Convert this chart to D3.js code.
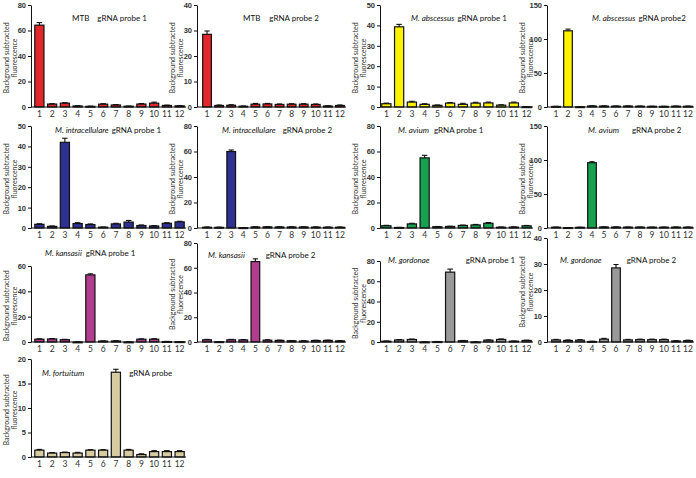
<!DOCTYPE html>
<html><head><meta charset="utf-8">
<script src="https://cdn.jsdelivr.net/npm/d3@7"></script>
<style>body{margin:0;background:#fff}svg{display:block}</style>
</head><body><svg id="c" width="696" height="478"></svg>
<script>
const categories = ["1","2","3","4","5","6","7","8","9","10","11","12"];

const mtb1 = [64.2, 2.3, 3.0, 0.8, 0.5, 2.2, 1.6, 0.6, 2.3, 3.0, 1.2, 0.9];
const mtb1Err = [2.0, 0.3, 0.4, 0.2, 0.2, 0.4, 0.3, 0.2, 0.4, 0.8, 0.3, 0.2];
const mtb2 = [28.5, 0.6, 0.7, 0.3, 1.1, 1.2, 1.0, 1.1, 1.1, 1.0, 0.4, 0.6];
const mtb2Err = [1.3, 0.2, 0.2, 0.1, 0.3, 0.2, 0.2, 0.2, 0.2, 0.2, 0.1, 0.2];
const abs1 = [1.6, 39.3, 2.4, 1.3, 0.8, 1.9, 1.3, 1.9, 2.0, 0.9, 2.0, 0.1];
const abs1Err = [0.3, 1.2, 0.4, 0.3, 0.2, 0.3, 0.5, 0.4, 0.4, 0.2, 0.4, 0.1];
const abs2 = [0.8, 112, 0.3, 1.5, 1.4, 1.3, 1.4, 1.2, 1.0, 0.9, 1.2, 1.1];
const abs2Err = [0.2, 2.5, 0.1, 0.3, 0.3, 0.2, 0.3, 0.2, 0.2, 0.2, 0.2, 0.2];
const int1 = [1.8, 0.8, 42.0, 2.2, 1.7, 0.4, 2.0, 2.9, 1.2, 1.0, 2.3, 3.0];
const int1Err = [0.3, 0.2, 2.0, 0.4, 0.3, 0.1, 0.3, 0.8, 0.3, 0.2, 0.3, 0.3];
const int2 = [0.6, 0.5, 60.0, 0.2, 0.8, 0.9, 0.8, 0.8, 0.8, 0.7, 0.6, 0.6];
const int2Err = [0.2, 0.2, 1.2, 0.1, 0.2, 0.2, 0.2, 0.2, 0.2, 0.2, 0.2, 0.2];
const avi1 = [1.8, 0.4, 3.2, 55.0, 1.0, 1.2, 2.0, 2.4, 3.7, 0.6, 0.7, 1.7];
const avi1Err = [0.3, 0.1, 0.5, 2.0, 0.2, 0.2, 0.3, 0.4, 0.6, 0.2, 0.2, 0.3];
const avi2 = [1.2, 0.5, 1.0, 96.0, 1.5, 1.4, 1.3, 1.3, 1.2, 1.2, 1.3, 1.2];
const avi2Err = [0.2, 0.1, 0.2, 1.5, 0.3, 0.3, 0.2, 0.2, 0.2, 0.2, 0.2, 0.2];
const kan1 = [2.2, 2.4, 1.8, -0.5, 53.0, 0.7, 0.8, -0.6, 2.2, 2.2, 0.3, 0.2];
const kan1Err = [0.3, 0.3, 0.3, 0.2, 0.8, 0.2, 0.2, 0.2, 0.3, 0.4, 0.2, 0.1];
const kan2 = [1.8, 0.2, 1.8, 1.7, 65.0, 1.5, 1.3, 1.0, 0.8, 1.2, 1.3, 0.9];
const kan2Err = [0.3, 0.1, 0.3, 0.3, 2.2, 0.3, 0.2, 0.2, 0.2, 0.2, 0.2, 0.2];
const gor1 = [0.8, 2.0, 2.5, -0.5, 0.3, 69.0, 1.2, -0.3, 1.8, 2.5, 0.8, 1.5];
const gor1Err = [0.2, 0.4, 0.4, 0.2, 0.2, 3.0, 0.3, 0.2, 0.3, 0.5, 0.2, 0.3];
const gor2 = [0.8, 0.6, 0.7, 0.2, 1.1, 28.5, 0.8, 0.9, 0.9, 0.9, 0.4, 0.5];
const gor2Err = [0.2, 0.2, 0.2, 0.1, 0.3, 1.3, 0.2, 0.2, 0.2, 0.2, 0.1, 0.2];
const for1 = [1.4, 0.8, 0.9, 0.8, 1.4, 1.4, 17.3, 1.4, 0.5, 1.1, 1.1, 1.1];
const for1Err = [0.15, 0.1, 0.1, 0.15, 0.1, 0.1, 0.6, 0.15, 0.15, 0.2, 0.2, 0.2];

const species = ["MTB","MTB","M. abscessus","M. abscessus","M. intracellulare","M. intracellulare",
  "M. avium","M. avium","M. kansasii","M. kansasii","M. gordonae","M. gordonae","M. fortuitum"];
const probes = ["gRNA probe 1","gRNA probe 2","gRNA probe 1","gRNA probe2","gRNA probe 1","gRNA probe 2",
  "gRNA probe 1","gRNA probe 2","gRNA probe 1","gRNA probe 2","gRNA probe 1","gRNA probe 2","gRNA probe"];
const yMax = [80,40,50,150,50,80,80,150,60,80,80,40,20];
const yStep = [20,10,10,50,10,20,20,50,20,20,20,10,5];
const yTitle = ["Background subtracted","fluorescence"];

const seriesList = [mtb1,mtb2,abs1,abs2,int1,int2,avi1,avi2,kan1,kan2,gor1,gor2,for1];
const errList = [mtb1Err,mtb2Err,abs1Err,abs2Err,int1Err,int2Err,avi1Err,avi2Err,kan1Err,kan2Err,gor1Err,gor2Err,for1Err];

// styling / layout
const colors = ["#e3262b","#e3262b","#fff200","#fff200","#2e3192","#2e3192","#16a04f","#16a04f",
  "#b13d8f","#b13d8f","#999999","#999999","#d7cba1"];
const colAxisX = [31,197,380,547];
const colRange = [[33,186],[201,346],[380,533],[550,694]];
const rowZero = [107,228,342,457];
const panelTop = [5,5,5,5,126,126,126,126,266,243,261,238,359];
const titlePos = [ // [speciesX, gap to probe, baselineY]
  [72,8,21],[243,9,21],[411,3,21],[592,3,21],
  [55,3,133],[222,7,133],[398,5,133],[588,13,133],
  [45,4,256],[208,21,258],[388,36,263],[560,25,263],
  [42,45,376]
];

const svg = d3.select("#c");
const FONT = "Lato, 'Open Sans', sans-serif";

seriesList.forEach((vals, i) => {
  const col = i % 4, row = Math.floor(i / 4);
  const errs = errList[i];
  const ax = colAxisX[col];
  const zero = rowZero[row];
  const top = panelTop[i];
  const y = d3.scaleLinear().domain([0, yMax[i]]).range([zero, top]);
  const x = d3.scaleBand().domain(categories).range(colRange[col]).paddingInner(0.28).paddingOuter(0.14);
  const g = svg.append("g");

  // bars
  const bw = x.bandwidth();
  g.selectAll("rect.bar").data(vals).join("rect")
    .attr("x", (d,j) => x(categories[j]))
    .attr("y", d => y(Math.max(d,0)))
    .attr("width", bw)
    .attr("height", d => Math.max(Math.abs(y(d) - y(0)), 0.8))
    .attr("fill", colors[i]).attr("stroke", "#111").attr("stroke-width", 1.2);

  // error bars
  const eg = g.append("g").attr("stroke", "#111").attr("stroke-width", 1.1);
  vals.forEach((d,j) => {
    const cx = x(categories[j]) + bw/2;
    const base = Math.max(d,0);
    const y0 = y(base), y1 = y(base + errs[j]);
    eg.append("line").attr("x1", cx).attr("x2", cx).attr("y1", y0).attr("y2", y1);
    eg.append("line").attr("x1", cx - bw*0.3).attr("x2", cx + bw*0.3).attr("y1", y1).attr("y2", y1);
  });

  // x axis line
  g.append("line").attr("x1", ax).attr("x2", colRange[col][1]).attr("y1", zero).attr("y2", zero)
    .attr("stroke", "#111").attr("stroke-width", 1);
  const xa = g.append("g").attr("transform", `translate(0,${zero})`)
    .call(d3.axisBottom(x).tickSize(0).tickPadding(4));
  xa.select(".domain").remove();
  xa.selectAll("text").attr("font-family", FONT).attr("font-size", 8.5).attr("fill", "#333");

  // y axis
  const ya = g.append("g").attr("transform", `translate(${ax},0)`)
    .call(d3.axisLeft(y).tickValues(d3.range(0, yMax[i] + 0.001, yStep[i])).tickSize(3).tickSizeOuter(0).tickPadding(2));
  ya.select(".domain").attr("stroke", "#111");
  ya.selectAll(".tick line").attr("stroke", "#111");
  ya.selectAll("text").attr("font-family", "'Liberation Sans', Arial, sans-serif").attr("font-weight", "bold")
    .attr("font-size", 7.5).attr("fill", "#333");

  // y axis title
  const midY = (zero + top) / 2 + 2;
  yTitle.forEach((t, k) => {
    g.append("text").attr("transform", `translate(${ax - 22 + k*8},${midY}) rotate(-90)`)
      .attr("text-anchor", "middle").attr("font-family", FONT).attr("font-size", 7)
      .attr("fill", "#333").text(t);
  });

  // title
  const tp = titlePos[i];
  const isItalic = species[i] !== "MTB";
  const st = g.append("text").attr("x", tp[0]).attr("y", tp[2]).attr("font-family", FONT).attr("font-size", 8)
    .attr("font-style", isItalic ? "italic" : "normal").attr("fill", "#111").text(species[i]);
  const sw = st.node().getComputedTextLength();
  g.append("text").attr("x", tp[0] + sw + tp[1]).attr("y", tp[2]).attr("font-family", FONT).attr("font-size", 8)
    .attr("fill", "#111").text(probes[i]);
});
</script>
</body></html>
